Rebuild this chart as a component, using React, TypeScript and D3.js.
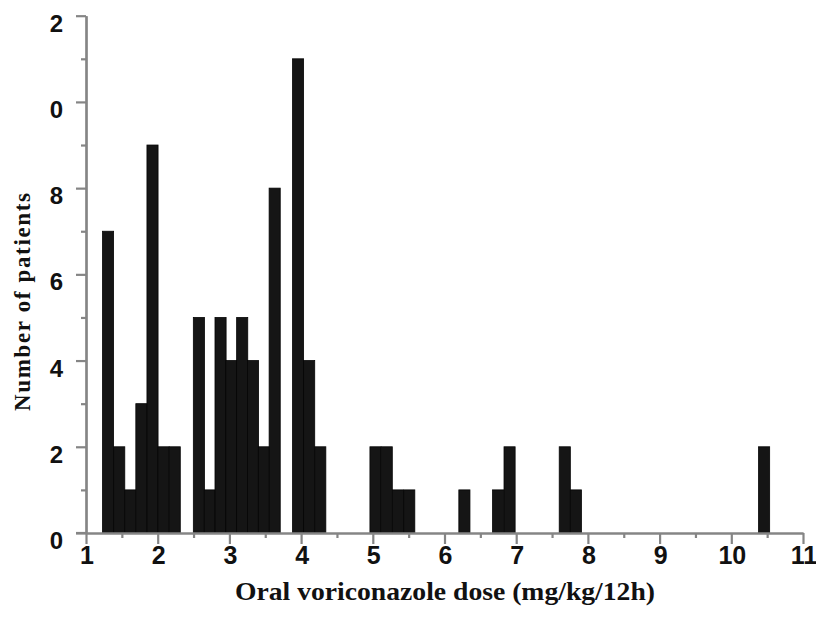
import React, { useEffect, useRef } from "react";
import * as d3 from "d3";

// left edge of each bin (mg/kg/12h) and number of patients in it
const binStart = [
  1.23, 1.386, 1.54, 1.695, 1.85, 2.005, 2.16,
  2.497, 2.648, 2.799, 2.95, 3.101, 3.252, 3.403, 3.554,
  3.88, 4.035, 4.19,
  4.96, 5.117, 5.274, 5.431,
  6.2,
  6.67, 6.83,
  7.6, 7.755,
  10.38,
];
const counts = [
  7, 2, 1, 3, 9, 2, 2,
  5, 1, 5, 4, 5, 4, 2, 8,
  11, 4, 2,
  2, 2, 1, 1,
  1,
  1, 2,
  2, 1,
  2,
];
const binWidth = 0.155;

const xTicks = [1, 2, 3, 4, 5, 6, 7, 8, 9, 10, 11];
const xMinorTicks = [1.5, 2.5, 3.5, 4.5, 5.5, 6.5, 7.5, 8.5, 9.5, 10.5];
const yTicks = [0, 2, 4, 6, 8, 10, 12];
const yMinorTicks = [1, 3, 5, 7, 9, 11];
// the leading "1" of 10 and 12 is missing in the figure
const yTickLabels = ["0", "2", "4", "6", "8", "0", "2"];

const App = () => {
  const ref = useRef<SVGSVGElement>(null);

  useEffect(() => {
    draw();
  });

  const draw = () => {
    const svg = d3.select(ref.current);
    svg.selectAll("*").remove();

    const width = 816;
    const height = 630;
    const x = d3.scaleLinear().domain([1, 11]).range([86, 803]);
    const y = d3.scaleLinear().domain([0, 12]).range([533, 15.7]);
    const axisColor = "#858585";
    const sans = "Liberation Sans, Arial, sans-serif";
    const serif = "Liberation Serif, Times New Roman, serif";

    svg.attr("width", width).attr("height", height);

    // bars
    svg
      .append("g")
      .selectAll("rect")
      .data(binStart)
      .enter()
      .append("rect")
      .attr("x", (d) => x(d))
      .attr("y", (d, i) => y(counts[i]))
      .attr("width", (d) => x(d + binWidth) - x(d))
      .attr("height", (d, i) => y(0) - y(counts[i]))
      .style("fill", "#151515")
      .style("stroke", "#050505")
      .style("stroke-width", 0.8);

    const styleAxis = (g) => {
      g.selectAll("path, line")
        .attr("stroke", axisColor)
        .attr("stroke-width", 2.2);
      g.selectAll("text").remove();
    };

    // minor ticks first, then major ticks with the axis line
    svg
      .append("g")
      .attr("transform", `translate(${x(1)},0)`)
      .call(d3.axisLeft(y).tickValues(yMinorTicks).tickSize(5).tickSizeOuter(0))
      .call(styleAxis);
    svg
      .append("g")
      .attr("transform", `translate(${x(1)},0)`)
      .call(d3.axisLeft(y).tickValues(yTicks).tickSize(10).tickSizeOuter(0))
      .call(styleAxis);

    svg
      .append("g")
      .attr("transform", `translate(0,${y(0)})`)
      .call(d3.axisBottom(x).tickValues(xMinorTicks).tickSize(5).tickSizeOuter(0))
      .call(styleAxis);
    svg
      .append("g")
      .attr("transform", `translate(0,${y(0)})`)
      .call(d3.axisBottom(x).tickValues(xTicks).tickSize(11).tickSizeOuter(0))
      .call(styleAxis);

    // the x axis line reaches a little left of the y axis
    svg
      .append("line")
      .attr("x1", x(1) - 10)
      .attr("x2", x(1))
      .attr("y1", y(0))
      .attr("y2", y(0))
      .attr("stroke", axisColor)
      .attr("stroke-width", 2.2);

    // tick labels
    svg
      .append("g")
      .selectAll("text")
      .data(yTicks)
      .enter()
      .append("text")
      .attr("x", 63)
      .attr("y", (d) => y(d) + 16)
      .attr("text-anchor", "end")
      .attr("font-family", sans)
      .attr("font-weight", "bold")
      .attr("font-size", 24)
      .attr("fill", "#111")
      .text((d, i) => yTickLabels[i]);

    svg
      .append("g")
      .selectAll("text")
      .data(xTicks)
      .enter()
      .append("text")
      .attr("x", (d) => x(d) + 1)
      .attr("y", 564)
      .attr("text-anchor", "middle")
      .attr("font-family", sans)
      .attr("font-weight", "bold")
      .attr("font-size", 25)
      .attr("fill", "#111")
      .text((d) => d);

    // axis titles
    svg
      .append("text")
      .attr("x", 445)
      .attr("y", 600)
      .attr("text-anchor", "middle")
      .attr("font-family", serif)
      .attr("font-weight", "bold")
      .attr("font-size", 26)
      .attr("textLength", 420)
      .attr("lengthAdjust", "spacingAndGlyphs")
      .attr("fill", "#111")
      .text("Oral voriconazole  dose (mg/kg/12h)");

    svg
      .append("text")
      .attr("transform", "translate(30,302) rotate(-90)")
      .attr("text-anchor", "middle")
      .attr("font-family", serif)
      .attr("font-weight", "bold")
      .attr("font-size", 23)
      .attr("textLength", 218)
      .attr("fill", "#111")
      .text("Number of patients");
  };

  return (
    <svg
      ref={ref}
      style={{ position: "absolute", left: 0, top: 0, background: "#fff" }}
    />
  );
};

export default App;
